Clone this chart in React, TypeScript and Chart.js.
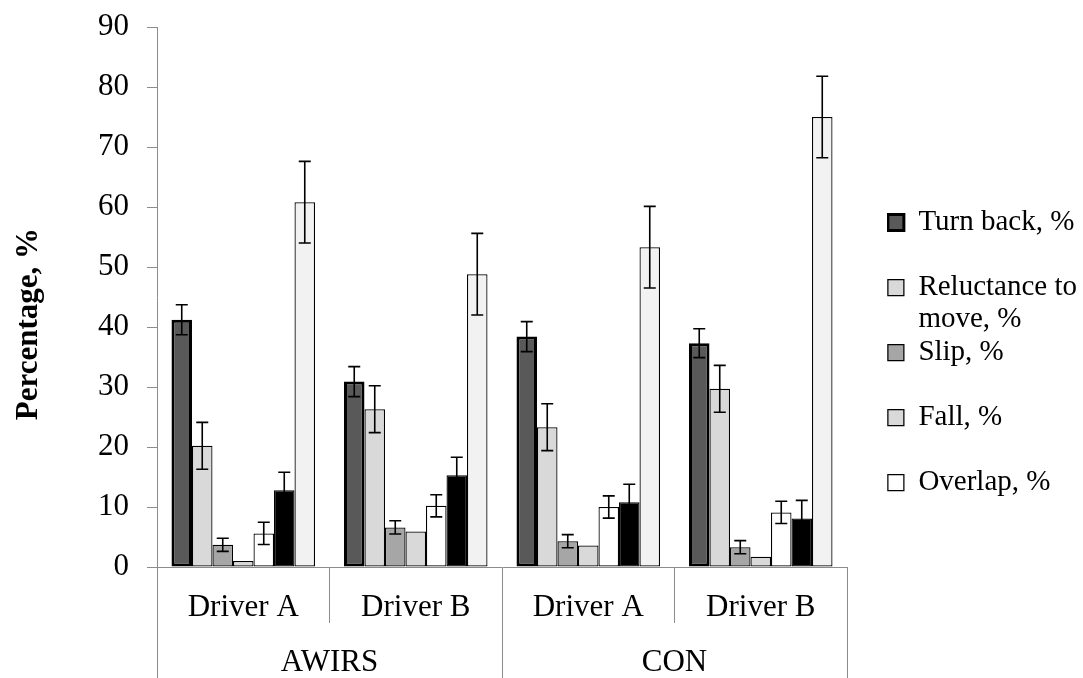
import React, { useEffect, useRef } from 'react';
import { Chart, registerables } from 'chart.js';

Chart.register(...registerables);

// ---- data ----
const categories = ['Driver A', 'Driver B', 'Driver A', 'Driver B'];
const groups = ['AWIRS', 'CON'];
const seriesNames = ['Turn back, %', 'Reluctance to move, %', 'Slip, %', 'Fall, %', 'Overlap, %', 'Series 6', 'Series 7'];
const legendLines = [
  ['Turn back, %', ''],
  ['Reluctance to', 'move, %'],
  ['Slip, %', ''],
  ['Fall, %', ''],
  ['Overlap, %', ''],
];
const yTitle = 'Percentage, %';

const turnBack = [41.2, 30.9, 38.4, 37.3];
const reluctance = [20.2, 26.3, 23.3, 29.7];
const slip = [3.7, 6.6, 4.3, 3.3];
const fall = [1.0, 5.9, 3.6, 1.7];
const overlap = [5.6, 10.2, 10.0, 9.1];
const series6 = [12.8, 15.3, 10.8, 8.1];
const series7 = [60.8, 48.8, 53.3, 75.0];

const turnBackErr = [2.5, 2.5, 2.5, 2.4];
const reluctanceErr = [3.9, 3.9, 3.9, 3.9];
const slipErr = [1.1, 1.1, 1.1, 1.1];
const fallErr = [0, 0, 0, 0];
const overlapErr = [1.85, 1.85, 1.85, 1.85];
const series6Err = [3.0, 3.0, 3.0, 3.0];
const series7Err = [6.8, 6.8, 6.8, 6.8];

const seriesValues = [turnBack, reluctance, slip, fall, overlap, series6, series7];
const seriesErrors = [turnBackErr, reluctanceErr, slipErr, fallErr, overlapErr, series6Err, series7Err];

// ---- styles ----
const fills = ['#595959', '#d9d9d9', '#a6a6a6', '#d9d9d9', '#ffffff', '#000000', '#f2f2f2'];
const borderWidths = [3, 1.25, 1.25, 1.25, 1.25, 1.25, 1.25];
const FONT = "'Liberation Serif', 'Times New Roman', serif";
const AXIS = '#8c8c8c';
const CANVAS_W = 1083;
const CANVAS_H = 678;
const PAD_RIGHT = -4;
const PLOT_RIGHT = 847;

const errorBarsPlugin = {
  id: 'errorBars',
  afterDatasetsDraw(chart: any) {
    const ctx = chart.ctx;
    const yScale = chart.scales.y;
    ctx.save();
    ctx.strokeStyle = '#000';
    ctx.lineWidth = 1.6;
    chart.data.datasets.forEach((ds: any, i: number) => {
      const errs = seriesErrors[i];
      if (!errs) return;
      const meta = chart.getDatasetMeta(i);
      meta.data.forEach((bar: any, j: number) => {
        const v = ds.data[j];
        const e = errs[j];
        if (!e) return;
        const x = bar.x;
        const yt = yScale.getPixelForValue(v + e);
        const yb = yScale.getPixelForValue(v - e);
        ctx.beginPath();
        ctx.moveTo(x, yt);
        ctx.lineTo(x, yb);
        ctx.moveTo(x - 6, yt);
        ctx.lineTo(x + 6, yt);
        ctx.moveTo(x - 6, yb);
        ctx.lineTo(x + 6, yb);
        ctx.stroke();
      });
    });
    ctx.restore();
  },
};

export default function App() {
  const ref = useRef<HTMLCanvasElement>(null);

  useEffect(() => {
    const canvas = ref.current;
    if (!canvas) return;
    const chart = new Chart(canvas, {
      type: 'bar',
      data: {
        labels: categories,
        datasets: seriesValues.map((d, i) => ({
          label: seriesNames[i],
          data: d,
          backgroundColor: fills[i],
          borderColor: '#000000',
          borderWidth: borderWidths[i],
          borderSkipped: false,
          xAxisID: 'x',
          yAxisID: 'y',
          categoryPercentage: 0.832,
          barPercentage: 1,
        })),
      },
      options: {
        animation: false,
        responsive: false,
        layout: { padding: { top: 27, left: 0, right: PAD_RIGHT, bottom: 0 } },
        plugins: {
          tooltip: { enabled: false },
          legend: {
            position: 'right',
            align: 'start',
            maxWidth: 400,
            title: {
              display: true,
              text: ' ',
              font: { size: 10, lineHeight: 1 },
              padding: { top: 170, bottom: 0 },
            },
            labels: {
              boxWidth: 16,
              boxHeight: 16,
              padding: 1,
              color: '#000',
              font: { family: FONT, size: 29, lineHeight: 32 / 29 },
              generateLabels: (c: any) => {
                const items = (Chart as any).defaults.plugins.legend.labels.generateLabels(c);
                return items
                  .filter((it: any) => it.datasetIndex < legendLines.length)
                  .map((it: any) => ({ ...it, text: legendLines[it.datasetIndex] }));
              },
            },
          },
        },
        scales: {
          x: {
            type: 'category',
            position: 'bottom',
            offset: true,
            weight: 0,
            grid: {
              display: true,
              offset: true,
              drawOnChartArea: false,
              drawTicks: true,
              tickLength: 56,
              color: AXIS,
              lineWidth: 1,
            },
            border: { display: true, color: AXIS, width: 1 },
            ticks: {
              color: '#000',
              font: { family: FONT, size: 31 },
              padding: -34,
              maxRotation: 0,
              autoSkip: false,
            },
            afterFit: (s: any) => {
              s.height = 56;
            },
          },
          x2: {
            type: 'category',
            labels: groups,
            position: 'bottom',
            offset: true,
            weight: 1,
            grid: {
              display: true,
              offset: true,
              drawOnChartArea: false,
              drawTicks: true,
              tickLength: 55,
              color: AXIS,
              lineWidth: 1,
            },
            border: { display: false },
            ticks: {
              color: '#000',
              font: { family: FONT, size: 31 },
              padding: -34,
              maxRotation: 0,
              autoSkip: false,
            },
            afterFit: (s: any) => {
              s.height = 55;
            },
          },
          y: {
            type: 'linear',
            position: 'left',
            min: 0,
            max: 90,
            ticks: {
              stepSize: 10,
              color: '#000',
              font: { family: FONT, size: 31 },
              padding: 18,
            },
            grid: {
              drawOnChartArea: false,
              drawTicks: true,
              tickLength: 10,
              color: AXIS,
            },
            border: { display: true, color: AXIS, width: 1 },
            title: {
              display: true,
              text: yTitle + '       ',
              color: '#000',
              font: { family: FONT, size: 31, weight: 'bold' },
              padding: { top: 10, bottom: 0 },
            },
            afterFit: (s: any) => {
              s.width = 157;
              s.paddingTop = 0;
              s.paddingBottom = 0;
            },
          },
          y2: {
            type: 'linear',
            position: 'right',
            display: true,
            grid: { display: false, drawTicks: false },
            ticks: { display: false },
            border: { display: false },
            afterFit: (s: any) => {
              const lw = s.chart.legend ? s.chart.legend.width : 200;
              s.width = Math.max(0, CANVAS_W - PAD_RIGHT - lw - PLOT_RIGHT);
              s.paddingTop = 0;
              s.paddingBottom = 0;
            },
          },
        },
      } as any,
      plugins: [errorBarsPlugin],
    });
    return () => chart.destroy();
  }, []);

  return (
    <div style={{ position: 'absolute', left: 0, top: 0, width: CANVAS_W, height: CANVAS_H, background: '#fff' }}>
      <canvas ref={ref} width={CANVAS_W} height={CANVAS_H} style={{ display: 'block' }} />
    </div>
  );
}
